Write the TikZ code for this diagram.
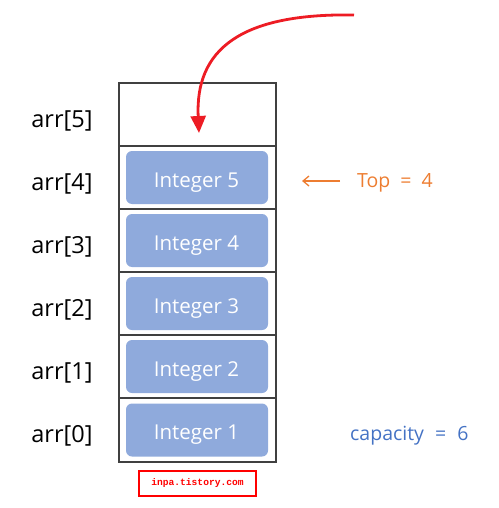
\documentclass[tikz,border=0pt]{standalone}
\usepackage{fontspec}
\setmainfont{Open Sans}
\newfontfamily\wmfont{Liberation Mono}
\usetikzlibrary{arrows.meta}
\definecolor{boxblue}{HTML}{8FAADC}
\definecolor{toporange}{HTML}{ED7D31}
\definecolor{capblue}{HTML}{4472C4}
\definecolor{redarrow}{HTML}{ED1C24}
\definecolor{gridline}{HTML}{404040}
\newcommand{\eqgap}{\hspace{5pt}}
\tikzset{
  cell/.style={draw=gridline, line width=1.2pt, minimum width=157pt, minimum height=63pt, inner sep=0pt, outer sep=0pt},
  item/.style={fill=boxblue, rounded corners=6pt, minimum width=142pt, minimum height=53pt, inner sep=0pt},
  itemtext/.style={text=white, font=\fontsize{20.5}{23}\selectfont, anchor=base, inner sep=0pt},
  idx/.style={font=\fontsize{23.5}{26}\selectfont, anchor=base, inner sep=0pt},
  note/.style={font=\fontsize{19.5}{22}\selectfont, anchor=base west, inner sep=0pt},
}
\begin{document}
\begin{tikzpicture}[x=1pt,y=-1pt]
\useasboundingbox (0,0) rectangle (498,508);
% cells
\foreach \i/\y in {5/114.5,4/177.5,3/240.5,2/303.5,1/366.5,0/430} {
  \node[cell] (c\i) at (197.5,\y) {};
  \node[idx] (l\i) at (62,\y+12.5) {arr[\i]};
}
\node[cell, minimum height=64pt] (c0) at (197.5,430) {};
\foreach \i/\y in {5/177.5,4/240.5,3/303.5,2/366.5,1/430} {
  \node[item] (b\i) at (197,\y) {};
  \node[itemtext] (t\i) at (196.5,\y+9.5) {Integer \i};
}
% top pointer
\node[note, text=toporange] (top) at (357,187) {Top\eqgap{} =\eqgap{} 4};
\coordinate (topA) at (340,181);
\coordinate (topB) at (302,181);
\draw[toporange, line width=1.3pt, -{Straight Barb[length=6pt,width=10pt]}] (topA) -- (topB);
% capacity
\node[note, text=capblue] (cap) at (350,440) {capacity\hspace{6pt} =\hspace{6pt} 6};
% red insertion arrow
\coordinate (rs) at (354,15);
\coordinate (re) at (199,133);
\draw[redarrow, line width=2.8pt, -{Triangle[length=17pt,width=15pt]}] (rs) .. controls (240,13) and (195,50) .. (re);
% watermark
\node[draw=red, line width=2pt, minimum width=117pt, minimum height=25pt, inner sep=0pt, text=red, font=\wmfont\bfseries\fontsize{9.6}{11}\selectfont] (wm) at (197.5,483.5) {inpa.tistory.com};
\end{tikzpicture}
\end{document}
